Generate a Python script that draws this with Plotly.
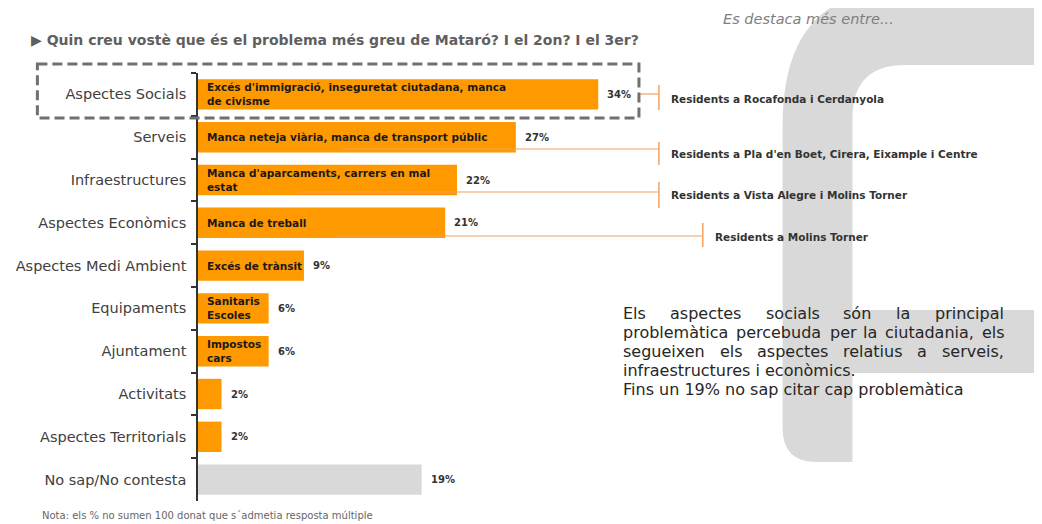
import plotly.graph_objects as go

# Data
categories = ["Aspectes Socials", "Serveis", "Infraestructures", "Aspectes Econòmics",
              "Aspectes Medi Ambient", "Equipaments", "Ajuntament", "Activitats",
              "Aspectes Territorials", "No sap/No contesta"]
values = [34, 27, 22, 21, 9, 6, 6, 2, 2, 19]
details = ["Excés d'immigració, inseguretat ciutadana, manca<br>de civisme",
           "Manca neteja viària, manca de transport públic",
           "Manca d'aparcaments, carrers en mal<br>estat",
           "Manca de treball",
           "Excés de trànsit",
           "Sanitaris<br>Escoles",
           "Impostos<br>cars",
           "", "", ""]
highlights = ["Residents a Rocafonda i Cerdanyola",
              "Residents a Pla d'en Boet, Cirera, Eixample i Centre",
              "Residents a Vista Alegre i Molins Torner",
              "Residents a Molins Torner"]

# Layout (screen pixels; the page body adds an 8px offset)
OFF = 8
W, H = 1042, 524
L, T = 196, 73            # plot area top-left on screen
PLOT_BOTTOM, PLOT_RIGHT = 501, 1042
PW, PH = PLOT_RIGHT - L, PLOT_BOTTOM - T
PX_PER_PCT = 11.8

def px(x):
    return (x - L) / PW

def py(y):
    return 1 - (y - T) / PH

ORANGE = "#FF9900"
GREY_BAR = "#D9D9D9"
LINE_OR = "#F4A261"
FONT = "DejaVu Sans"

colors = [ORANGE] * 9 + [GREY_BAR]

fig = go.Figure()
fig.add_trace(go.Bar(y=categories, x=values, orientation="h", marker_color=colors,
                     marker_line_width=0, width=0.71, hoverinfo="skip"))

ann = []
for c, v, d in zip(categories, values, details):
    if d:
        ann.append(dict(x=0, y=c, xref="x", yref="y", text=d, showarrow=False,
                        xanchor="left", xshift=7, align="left",
                        font=dict(family=FONT, size=10.5, color="#1a1a1a", weight="bold")))
    ann.append(dict(x=v, y=c, xref="x", yref="y", text=str(v) + "%", showarrow=False,
                    xanchor="left", xshift=7,
                    font=dict(family=FONT, size=10, color="#333333", weight="bold")))

# callouts: line start x, bracket x, line y, bracket top, bracket bottom, text y
callouts = [(637, 658, 94, 85, 110, 99),
            (340, 658, 149, 142, 165, 154),
            (298, 658, 192, 182, 208, 195),
            (335, 702, 236, 223, 247, 237)]

shapes = []
# background decorative logo shape
BG = "#D9D9D9"
path = "M {},{} L {},{} Q {},{} {},{} L {},{} Q {},{} {},{} L {},{} L {},{} Q {},{} {},{} L {},{} Z".format(
    px(1060), py(-10), px(900), py(-10), px(782), py(-10), px(782), py(125),
    px(782), py(428), px(782), py(462), px(816), py(462), px(852), py(462),
    px(852), py(118), px(852), py(65), px(905), py(65), px(1060), py(65))
shapes.append(dict(type="path", path=path, xref="paper", yref="paper",
                   fillcolor=BG, line_width=0, layer="below"))
shapes.append(dict(type="rect", xref="paper", yref="paper", x0=px(850), x1=px(1060),
                   y0=py(310), y1=py(373), fillcolor=BG, line_width=0, layer="below"))

for (x0, xb, yl, yt, yb, yt_txt), txt in zip(callouts, highlights):
    shapes.append(dict(type="line", xref="paper", yref="paper", x0=px(x0), x1=px(xb),
                       y0=py(yl), y1=py(yl), line=dict(color=LINE_OR, width=1.2)))
    shapes.append(dict(type="line", xref="paper", yref="paper", x0=px(xb), x1=px(xb),
                       y0=py(yt), y1=py(yb), line=dict(color=LINE_OR, width=1.5)))
    ann.append(dict(x=px(xb + 10), y=py(yt_txt), xref="paper", yref="paper", text=txt,
                    showarrow=False, xanchor="left", yanchor="middle",
                    font=dict(family=FONT, size=10.5, color="#333333", weight="bold")))

# dashed box around the first row
shapes.append(dict(type="rect", xref="paper", yref="paper", x0=px(35), x1=px(638),
                   y0=py(64), y1=py(118),
                   line=dict(color="#707070", width=3, dash="10px,5px")))

# title and texts
ann.append(dict(x=px(27), y=py(40), xref="paper", yref="paper",
                text="▶ Quin creu vostè que és el problema més greu de Mataró? I el 2on? I el 3er?",
                showarrow=False, xanchor="left", yanchor="middle",
                font=dict(family=FONT, size=14, color="#5f5f5f", weight="bold")))
ann.append(dict(x=px(720), y=py(19), xref="paper", yref="paper",
                text="<i>Es destaca més entre...</i>", showarrow=False,
                xanchor="left", yanchor="middle",
                font=dict(family=FONT, size=14.5, color="#7f7f7f")))
ann.append(dict(x=px(38), y=py(515), xref="paper", yref="paper",
                text="Nota: els % no sumen 100 donat que s´admetia resposta múltiple",
                showarrow=False, xanchor="left", yanchor="middle",
                font=dict(family=FONT, size=10, color="#666666")))

# paragraph, justified lines placed word by word
para_font = dict(family=FONT, size=16, color="#262626")
justified = [
    (313, [(620, "Els"), (667, "aspectes"), (763, "socials"), (841, "són"), (894, "la"), (933, "principal")]),
    (332, [(620, "problemàtica"), (733, "percebuda"), (827, "per"), (861, "la"), (883, "ciutadania,"), (980, "els")]),
    (351, [(620, "segueixen"), (717, "els"), (754, "aspectes"), (841, "relatius"), (915, "a"), (940, "serveis,")]),
]
for y, words in justified:
    for x, w in words:
        ann.append(dict(x=px(x), y=py(y), xref="paper", yref="paper", text=w, showarrow=False,
                        xanchor="left", yanchor="middle", font=para_font))
for y, t in [(370, "infraestructures i econòmics."),
             (389, "Fins un 19% no sap citar cap problemàtica")]:
    ann.append(dict(x=px(620), y=py(y), xref="paper", yref="paper", text=t, showarrow=False,
                    xanchor="left", yanchor="middle", font=para_font))

fig.update_layout(
    width=W, height=H,
    margin=dict(l=L - OFF, r=W - (PLOT_RIGHT - OFF), t=T - OFF, b=H - (PLOT_BOTTOM - OFF)),
    paper_bgcolor="white", plot_bgcolor="rgba(0,0,0,0)",
    showlegend=False, shapes=shapes, annotations=ann,
    xaxis=dict(range=[0, PW / PX_PER_PCT], visible=False, fixedrange=True),
    yaxis=dict(type="category", autorange="reversed", showline=True, linecolor="#333333",
               linewidth=1.5, ticks="outside", tickson="boundaries", ticklen=5,
               tickcolor="#333333", tickwidth=1.5, showgrid=False, ticklabelstandoff=7,
               tickfont=dict(family=FONT, size=14.5, color="#404040")),
)

fig.write_html("out.html")
